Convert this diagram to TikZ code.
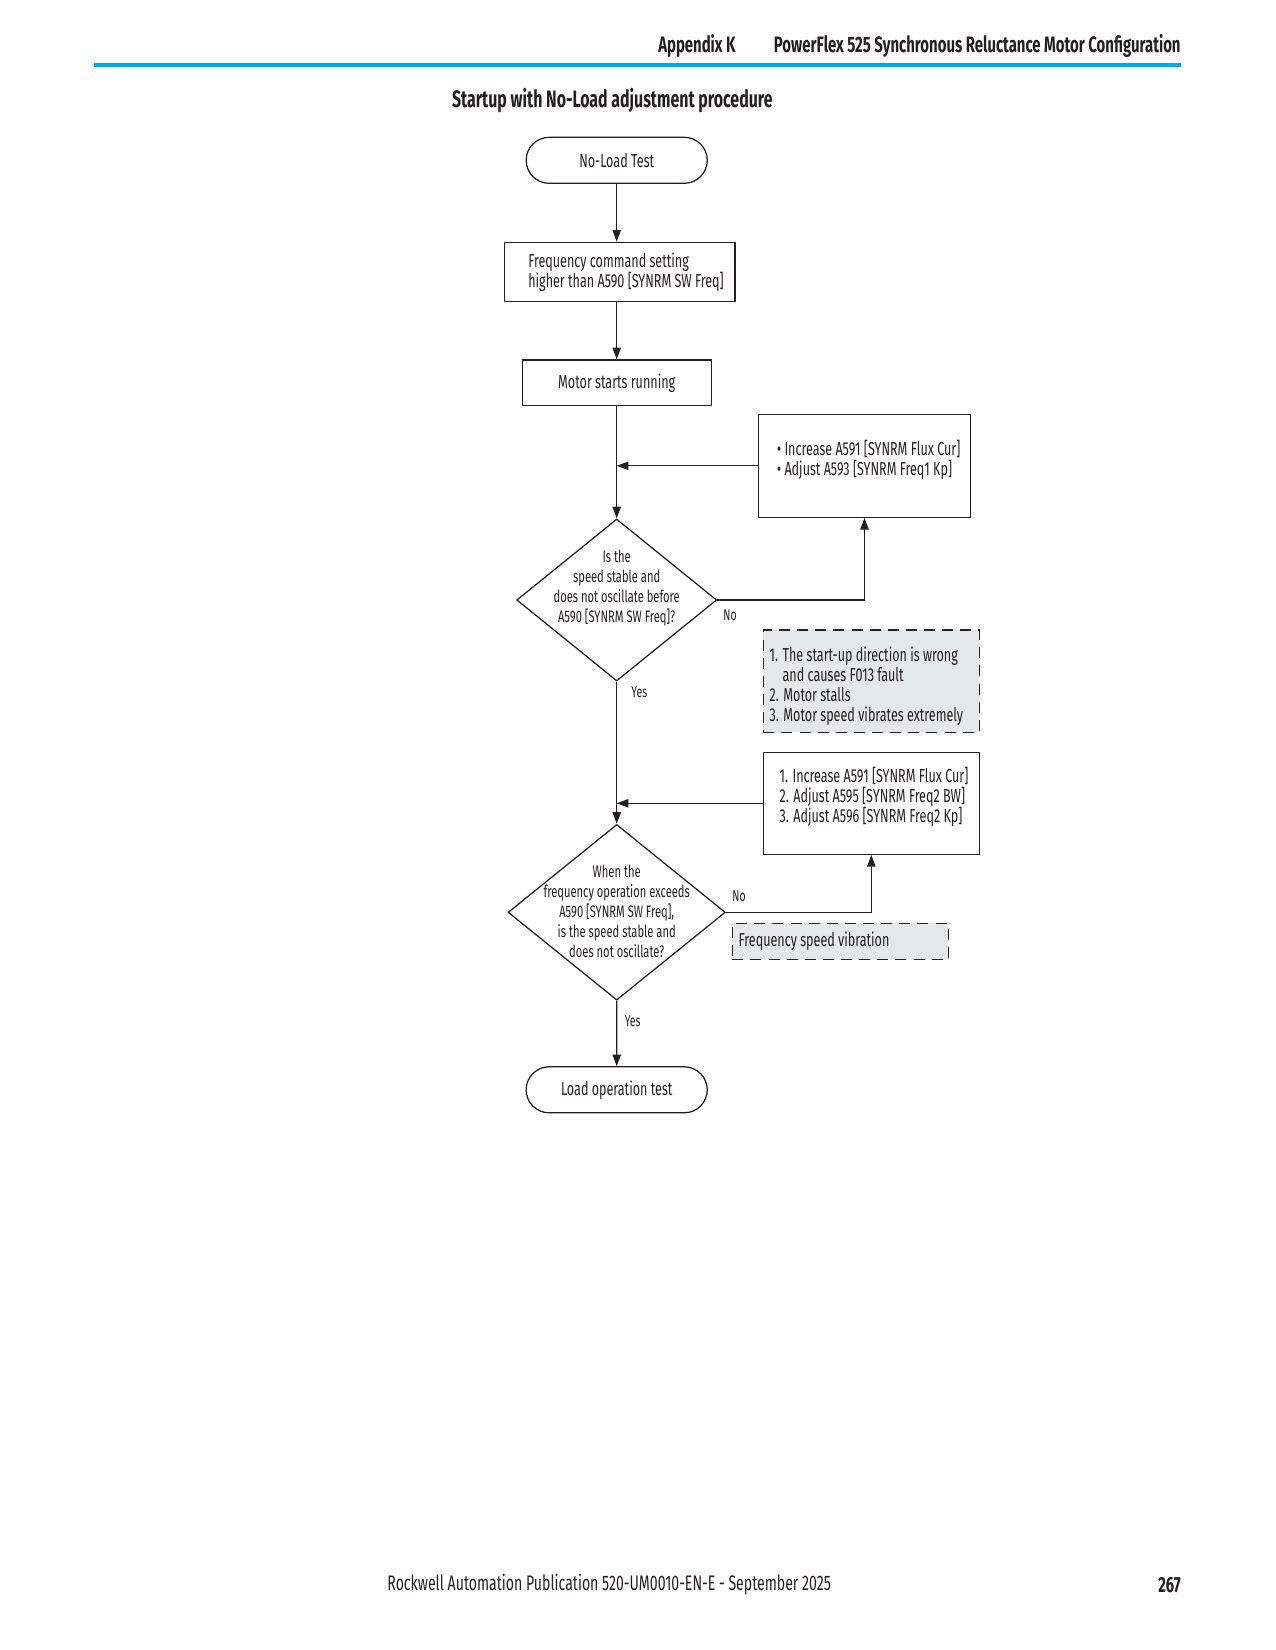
\documentclass[tikz,border=0pt]{standalone}
\usepackage{fontspec}
\setmainfont{Fira Sans}[FakeStretch=0.67]
\usetikzlibrary{shapes.geometric,shapes.misc,arrows.meta,calc}
\definecolor{rablue}{RGB}{0,170,230}
\definecolor{notegray}{RGB}{230,231,232}
\definecolor{ink}{RGB}{35,31,32}
\newcommand\PX{*0.48pt}
\newcommand\nf{\fontsize{9}{9.6}\selectfont}
\newcommand\df{\fontsize{8}{9.6}\selectfont}
\newcommand\lf{\fontsize{7.5}{9}\selectfont}
\begin{document}
\begin{tikzpicture}[x=0.48pt,y=-0.48pt,
  every node/.style={text=ink},
  flow/.style={draw=ink, line width=0.6pt, fill=white},
  pill/.style={flow, rounded rectangle, minimum width=195\PX, minimum height=46\PX, font=\nf},
  box/.style={flow, rectangle, inner sep=0pt},
  dia/.style={flow, diamond, inner sep=0pt},
  note/.style={draw=ink, line width=0.6pt, dash pattern=on 5.3pt off 3.4pt, fill=notegray, inner sep=0pt},
  txt/.style={inner sep=0pt, align=left, font=\nf},
  lab/.style={inner sep=0pt, font=\lf},
  arr/.style={draw=ink, line width=0.6pt, -{Triangle[length=5.6pt,width=4pt]}}]
\useasboundingbox (0,0) rectangle (1275,1650);

% header and footer
\coordinate (hl) at (94,65);
\coordinate (hr) at (1181,65);
\draw[rablue, line width=2.2pt] (hl) -- (hr);
\node[anchor=east, inner sep=0pt, font=\bfseries\fontsize{10.7}{12}\selectfont] (hd2) at (1181,46) {PowerFlex 525 Synchronous Reluctance Motor Configuration};
\node[anchor=east, inner sep=0pt, font=\bfseries\fontsize{10.7}{12}\selectfont] (hd1) at (736,46) {Appendix K};
\node[inner sep=0pt, font=\bfseries\fontsize{11.4}{12}\selectfont] (title) at (612.3,101) {Startup with No-Load adjustment procedure};
\node[anchor=west, inner sep=0pt, font=\fontsize{10.1}{12}\selectfont] (foot) at (387,1585) {Rockwell Automation Publication 520-UM0010-EN-E - September 2025};
\node[anchor=east, inner sep=0pt, font=\bfseries\fontsize{10.5}{12}\selectfont] (page) at (1181,1585) {267};

% flow nodes
\node[pill] (start) at (616.7,160.3) {No-Load Test};
\node[box, minimum width=230.7\PX, minimum height=59.3\PX] (freq) at (619.7,272) {};
\node[txt] (freqt) at (626,272) {Frequency command setting\\higher than A590 [SYNRM SW Freq]};
\node[box, minimum width=189\PX, minimum height=45.7\PX, font=\nf] (motor) at (616.7,382.8) {Motor starts running};

\node[box, minimum width=212.3\PX, minimum height=103\PX] (adj1) at (864.5,465.8) {};
\node[txt, anchor=west] (adj1t) at (776.7,459.7) {• Increase A591 [SYNRM Flux Cur]\\• Adjust A593 [SYNRM Freq1 Kp]};

\node[dia, minimum width=200\PX, minimum height=162\PX] (q1) at (616.7,600) {};
\node[inner sep=0pt, align=center, font=\df] (q1t) at (616.7,588) {Is the\\speed stable and\\does not oscillate before\\A590 [SYNRM SW Freq]?};

\node[note, minimum width=216\PX, minimum height=102.3\PX] (n1) at (871.3,681.2) {};
\node[txt, anchor=west] (n1t) at (769.3,685.7) {1. The start-up direction is wrong\\\phantom{1. }and causes F013 fault\\2. Motor stalls\\3. Motor speed vibrates extremely};

\node[box, minimum width=216\PX, minimum height=102\PX] (adj2) at (871.3,803.3) {};
\node[txt, anchor=west] (adj2t) at (779.3,797) {1. Increase A591 [SYNRM Flux Cur]\\2. Adjust A595 [SYNRM Freq2 BW]\\3. Adjust A596 [SYNRM Freq2 Kp]};

\node[dia, minimum width=217.3\PX, minimum height=175.7\PX] (q2) at (616.7,912.3) {};
\node[inner sep=0pt, align=center, font=\df] (q2t) at (616.7,911.7) {When the\\frequency operation exceeds\\A590 [SYNRM SW Freq],\\is the speed stable and\\does not oscillate?};

\node[note, minimum width=216\PX, minimum height=36\PX] (n2) at (840.3,941.3) {};
\node[txt, anchor=west] (n2t) at (738.3,941) {Frequency speed vibration};

\node[pill] (end) at (616.7,1089.8) {Load operation test};

% labels
\node[lab] (no1) at (730,615) {No};
\node[lab] (yes1) at (639.3,692.3) {Yes};
\node[lab] (no2) at (739,896.7) {No};
\node[lab] (yes2) at (632.7,1021) {Yes};

% connectors
\draw[arr] (start.south) -- (start.south |- freq.north);
\draw[arr] (freq.south -| motor) -- (motor.north);
\draw[arr] (motor) -- (q1);
\draw[arr] (adj1.west) -- (adj1.west -| motor);
\draw[arr] (q1.east) -| (adj1.south);
\draw[arr] (q1) -- (q2);
\draw[arr] (adj2.west) -- (adj2.west -| motor);
\draw[arr] (q2.east) -| (adj2.south);
\draw[arr] (q2) -- (end);
\end{tikzpicture}
\end{document}
